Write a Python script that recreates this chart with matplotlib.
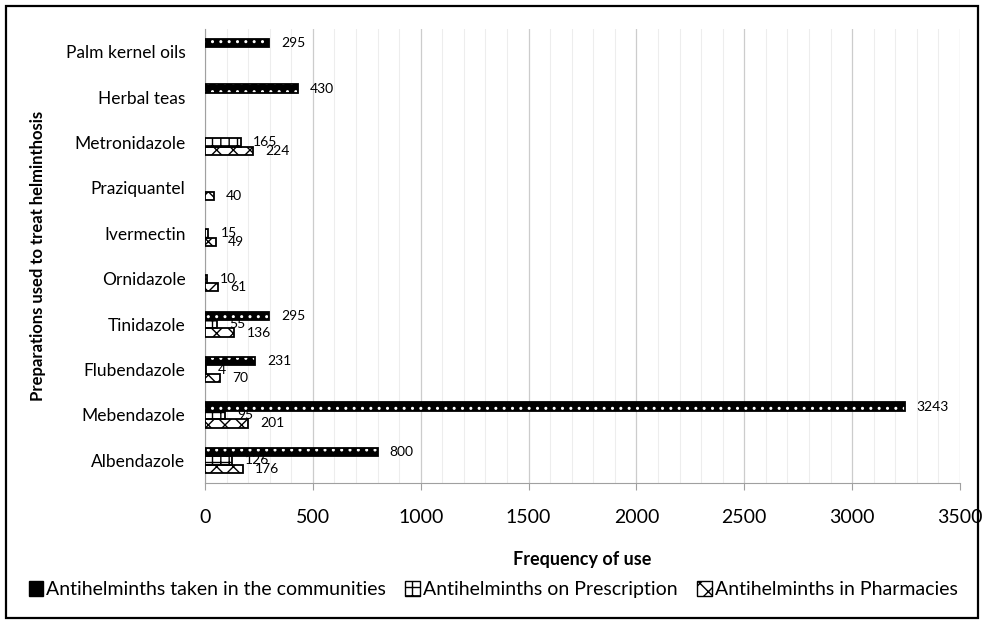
import matplotlib
matplotlib.use('Agg')
import matplotlib.pyplot as plt
import numpy as np
from matplotlib.patches import Patch, Rectangle
from matplotlib.ticker import MultipleLocator

plt.rcParams['font.family'] = ['Lato', 'DejaVu Sans']
plt.rcParams['hatch.linewidth'] = 1.0

# preparations, bottom to top
preparations = ['Albendazole', 'Mebendazole', 'Flubendazole', 'Tinidazole', 'Ornidazole',
                'Ivermectin', 'Praziquantel', 'Metronidazole', 'Herbal teas', 'Palm kernel oils']
# None = no bar / no label for that source
communities = [800, 3243, 231, 295, None, None, None, None, 430, 295]
prescription = [126, 95, 4, 55, 10, 15, None, 165, None, None]
pharmacies = [176, 201, 70, 136, 61, 49, 40, 224, None, None]

series_names = ['Antihelminths taken in the communities',
                'Antihelminths on Prescription',
                'Antihelminths in Pharmacies']

fig = plt.figure(figsize=(9.86, 6.26), dpi=100)
ax = fig.add_axes([0.2079, 0.2284, 0.7657, 0.7253])

y = np.arange(len(preparations))
bh = 0.185


def draw_series(values, offset, face, hatch, hatch_col):
    for yi, v in zip(y, values):
        if v is None:
            continue
        ax.barh(yi + offset, v, height=bh, color=face, edgecolor='none', zorder=3)
        ax.barh(yi + offset, v, height=bh, color='none', edgecolor=hatch_col,
                hatch=hatch, linewidth=0, zorder=4)
        ax.barh(yi + offset, v, height=bh, color='none', edgecolor='black',
                linewidth=1.3, zorder=5)
        ax.annotate(str(v), xy=(v, yi + offset), xytext=(8.8, 0),
                    textcoords='offset points', va='center', ha='left',
                    fontsize=10, zorder=6)


draw_series(communities, bh, 'black', '..', 'white')
draw_series(prescription, 0, 'white', '++', 'black')
draw_series(pharmacies, -bh, 'white', 'xx', 'black')

ax.set_xlim(0, 3500)
ax.set_ylim(-0.5, len(preparations) - 0.5)
ax.set_yticks(y)
ax.set_yticklabels(preparations, fontsize=12.5)
ax.xaxis.set_major_locator(MultipleLocator(500))
ax.xaxis.set_minor_locator(MultipleLocator(100))
ax.tick_params(axis='x', which='major', labelsize=14, length=5, color='#a0a0a0', pad=14)
ax.tick_params(axis='x', which='minor', length=0)
ax.tick_params(axis='y', length=0, pad=14)
ax.grid(axis='x', which='major', color='#cccccc', linewidth=0.9, zorder=0)
ax.grid(axis='x', which='minor', color='#ededed', linewidth=0.8, zorder=0)
ax.set_axisbelow(True)
for side in ['top', 'right']:
    ax.spines[side].set_visible(False)
for side in ['left', 'bottom']:
    ax.spines[side].set_color('#a0a0a0')

ax.set_xlabel('Frequency of use', fontsize=13, fontweight='bold', labelpad=18)
ax.set_ylabel('Preparations used to treat helminthosis', fontsize=12, fontweight='bold')
ax.yaxis.set_label_coords(-0.21, 0.5)

handles = [
    Patch(facecolor='black', edgecolor='black', hatch='..'),
    Patch(facecolor='white', edgecolor='black', hatch='++'),
    Patch(facecolor='white', edgecolor='black', hatch='xx'),
]
fig.legend(handles, series_names, loc='center', bbox_to_anchor=(0.5, 0.058), ncol=3,
           frameon=False, fontsize=14, handlelength=0.75, handleheight=0.75,
           handletextpad=0.15, columnspacing=1.0)

# border around the whole chart
fig.patches.append(Rectangle((0.006, 0.0128), 0.986, 0.977, transform=fig.transFigure,
                             fill=False, edgecolor='black', linewidth=1.6))

fig.savefig('out.png', dpi=100)
